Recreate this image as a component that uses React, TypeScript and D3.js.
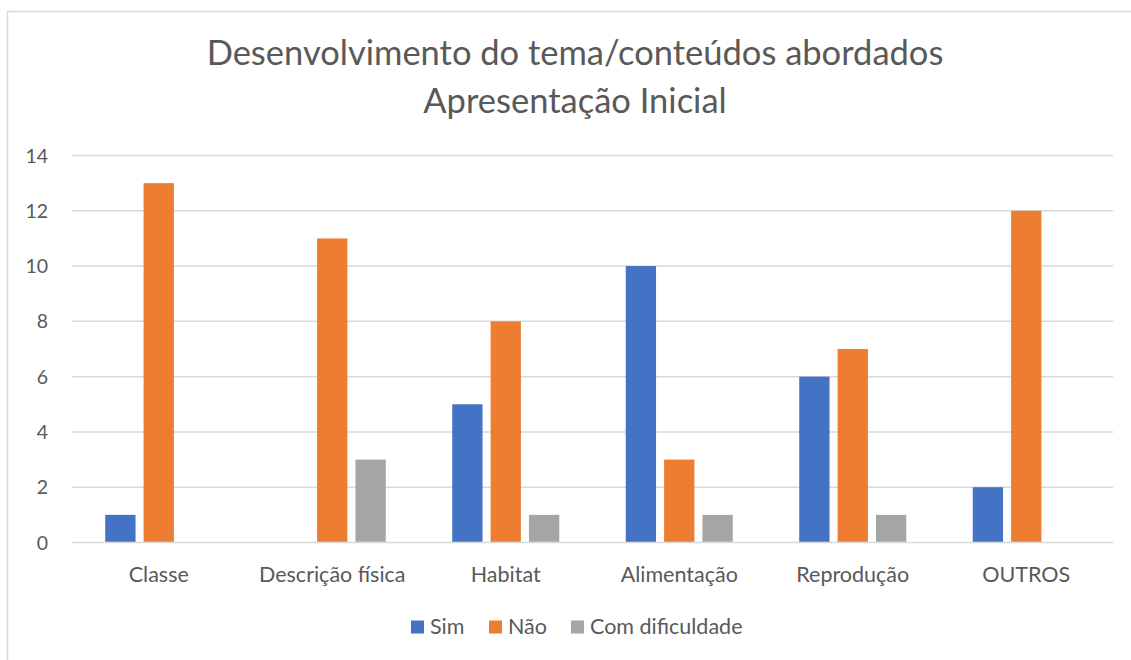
import React, { useEffect, useRef } from 'react';
import * as d3 from 'd3';

const categories = ['Classe', 'Descrição física', 'Habitat', 'Alimentação', 'Reprodução', 'OUTROS'];
const seriesNames = ['Sim', 'Não', 'Com dificuldade'];
const sim = [1, 0, 5, 10, 6, 2];
const nao = [13, 11, 8, 3, 7, 12];
const comDificuldade = [0, 3, 1, 1, 1, 0];
const yTicks = [0, 2, 4, 6, 8, 10, 12, 14];
const titleLines = ['Desenvolvimento do tema/conteúdos abordados', 'Apresentação Inicial'];

const colors = ['#4472C4', '#ED7D31', '#A5A5A5'];
const FONT = 'Lato, "Open Sans", sans-serif';
const TEXT = '#595959';

function App() {
  const ref = useRef<SVGSVGElement>(null);

  useEffect(() => {
    const width = 1131;
    const height = 660;
    const margin = { top: 155.5, right: 18, bottom: 117.5, left: 72 };

    const svg = d3.select(ref.current);
    svg.selectAll('*').remove();

    // chart frame
    svg.append('rect')
      .attr('x', 7.5).attr('y', 11.5)
      .attr('width', 1200).attr('height', 700)
      .attr('fill', 'white')
      .attr('stroke', '#D9D9D9')
      .attr('stroke-width', 1.5);

    // title
    svg.append('g')
      .selectAll('text')
      .data(titleLines)
      .enter()
      .append('text')
      .attr('x', 575)
      .attr('y', (d, i) => 65 + i * 47.5)
      .attr('text-anchor', 'middle')
      .style('font-family', FONT)
      .style('font-size', '34.5px')
      .style('fill', TEXT)
      .text(d => d);

    const x0 = d3.scaleBand<string>()
      .domain(categories)
      .range([margin.left, width - margin.right])
      .paddingInner(0.383)
      .paddingOuter(0.1915);

    const x1 = d3.scaleBand<string>()
      .domain(seriesNames)
      .range([0, x0.bandwidth()])
      .paddingInner(0.21);

    const y = d3.scaleLinear()
      .domain([0, 14])
      .range([height - margin.bottom, margin.top]);

    // gridlines
    svg.append('g')
      .selectAll('line')
      .data(yTicks)
      .enter()
      .append('line')
      .attr('x1', margin.left)
      .attr('x2', width - margin.right)
      .attr('y1', d => y(d))
      .attr('y2', d => y(d))
      .attr('stroke', '#D9D9D9')
      .attr('stroke-width', 1.5);

    // y tick labels
    svg.append('g')
      .selectAll('text')
      .data(yTicks)
      .enter()
      .append('text')
      .attr('x', 48)
      .attr('y', d => y(d) + 7)
      .attr('text-anchor', 'end')
      .style('font-family', FONT)
      .style('font-size', '19.5px')
      .style('fill', TEXT)
      .text(d => d);

    const values = [sim, nao, comDificuldade];
    const rows = categories.map((c, i) => ({
      category: c,
      bars: seriesNames.map((s, j) => ({ series: s, value: values[j][i], color: colors[j] })),
    }));

    const groups = svg.append('g')
      .selectAll('g')
      .data(rows)
      .enter()
      .append('g')
      .attr('transform', d => `translate(${x0(d.category)},0)`);

    groups.selectAll('rect')
      .data(d => d.bars.filter(b => b.value > 0))
      .enter()
      .append('rect')
      .attr('x', d => x1(d.series)!)
      .attr('width', x1.bandwidth())
      .attr('y', d => y(d.value))
      .attr('height', d => y(0) - y(d.value) - 0.75)
      .attr('fill', d => d.color);

    // category labels
    svg.append('g')
      .selectAll('text')
      .data(categories)
      .enter()
      .append('text')
      .attr('x', d => x0(d)! + x0.bandwidth() / 2)
      .attr('y', 581.5)
      .attr('text-anchor', 'middle')
      .style('font-family', FONT)
      .style('font-size', '21.5px')
      .style('fill', TEXT)
      .text(d => d);

    // legend
    const legendX = [411, 489, 571];
    const legend = svg.append('g')
      .selectAll('g')
      .data(seriesNames)
      .enter()
      .append('g')
      .attr('transform', (d, i) => `translate(${legendX[i]},620.5)`);
    legend.append('rect')
      .attr('width', 13).attr('height', 13)
      .attr('fill', (d, i) => colors[i]);
    legend.append('text')
      .attr('x', 19).attr('y', 13)
      .style('font-family', FONT)
      .style('font-size', '21.5px')
      .style('fill', TEXT)
      .text(d => d);
  }, []);

  return (
    <svg
      ref={ref}
      width={1131}
      height={660}
      style={{ position: 'absolute', left: 0, top: 0, background: 'white' }}
    />
  );
}

export default App;
